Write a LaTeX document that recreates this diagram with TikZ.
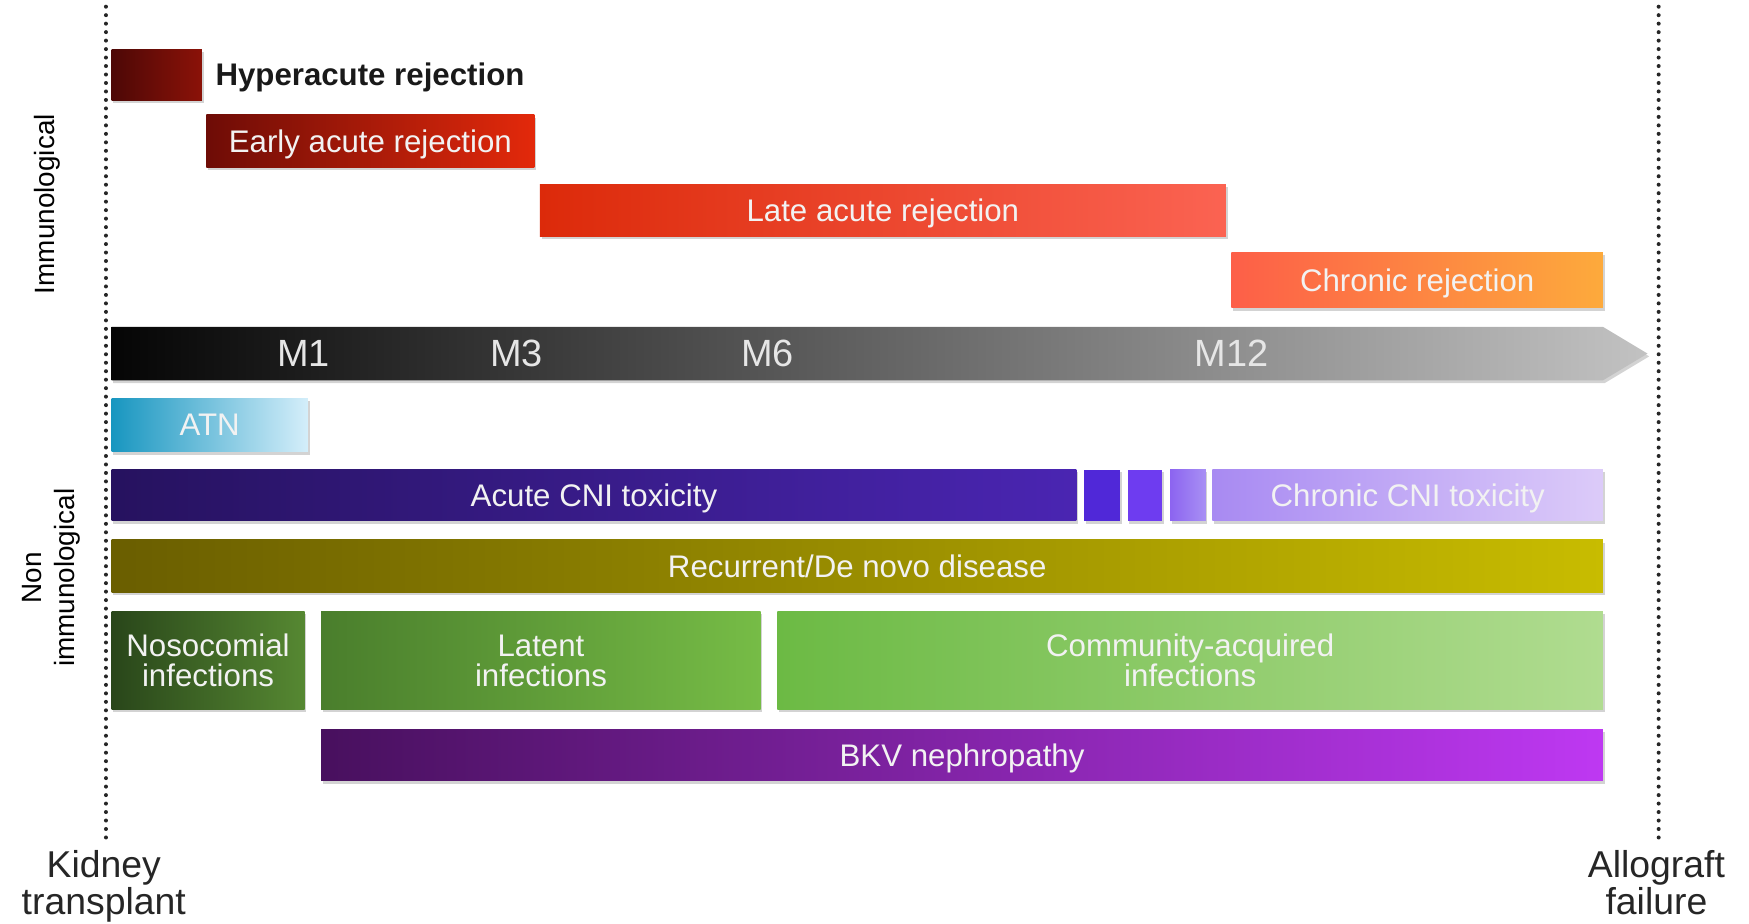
\documentclass[tikz,border=0pt]{standalone}
\usepackage{fontspec}
\setmainfont{Liberation Sans}
\usetikzlibrary{shadows}
\definecolor{hypL}{HTML}{4D0806}\definecolor{hypR}{HTML}{8B1208}
\definecolor{earL}{HTML}{6E0C06}\definecolor{earR}{HTML}{E3290B}
\definecolor{latL}{HTML}{DC2A0A}\definecolor{latR}{HTML}{FB6352}
\definecolor{chrL}{HTML}{FD5F48}\definecolor{chrR}{HTML}{FDAA3C}
\definecolor{arrL}{HTML}{050505}\definecolor{arrR}{HTML}{C2C2C2}
\definecolor{atnL}{HTML}{1896C0}\definecolor{atnR}{HTML}{D4EEFA}
\definecolor{cniL}{HTML}{26125F}\definecolor{cniR}{HTML}{4A25B2}
\definecolor{smA}{HTML}{5028D8}\definecolor{smB}{HTML}{6E3CF0}
\definecolor{smCL}{HTML}{8C64F0}\definecolor{smCR}{HTML}{A890F4}
\definecolor{ccnL}{HTML}{A88AF2}\definecolor{ccnR}{HTML}{DCCBF9}
\definecolor{recL}{HTML}{6A5E00}\definecolor{recR}{HTML}{C8BC00}
\definecolor{nosL}{HTML}{29461A}\definecolor{nosR}{HTML}{568832}
\definecolor{ltnL}{HTML}{4A7E2C}\definecolor{ltnR}{HTML}{76BC46}
\definecolor{comL}{HTML}{6CBA44}\definecolor{comR}{HTML}{B0DC90}
\definecolor{bkvL}{HTML}{48105E}\definecolor{bkvR}{HTML}{BE38F2}
\definecolor{txtW}{HTML}{F2F2F2}
\definecolor{mlab}{HTML}{E6E6E6}
\newcommand\myendfont{\fontsize{33.5}{33}\selectfont\lineskiplimit=-50pt\relax\lineskip=0pt\relax}
\tikzset{
  bx/.style={inner sep=0pt, outer sep=0pt, text=txtW, align=center, text depth=0pt,
    font=\fontsize{28}{27}\selectfont,
    drop shadow={opacity=0.35, shadow xshift=1.5pt, shadow yshift=-2.5pt}},
  side/.style={font=\fontsize{25}{30}\selectfont, text=black, align=center, inner sep=0pt},
  endlab/.style={font=\myendfont, text=black!85, align=center, inner sep=0pt},
  mlabel/.style={font=\fontsize{34}{34}\selectfont, text=mlab, inner sep=0pt},
  dotline/.style={line width=3.6pt, line cap=round, dash pattern=on 0pt off 7.6pt, black!85}
}
\begin{document}
\begin{tikzpicture}[x=1pt,y=-1pt]
\useasboundingbox (0,0) rectangle (1568,828);
% dotted lines
\coordinate (lt) at (95,6); \coordinate (lb) at (95,757);
\coordinate (rt) at (1487,6); \coordinate (rb) at (1487,757);
\draw[dotline] (lt) -- (lb);
\draw[dotline] (rt) -- (rb);
% side labels
\node[side, rotate=90] (imm) at (42,183) {Immunological};
\node[side, rotate=90] (nonimm) at (46,518) {Non\\immunological};
\node[endlab, anchor=base] (kt) at (93,820) {Kidney\\transplant};
\node[endlab, anchor=base] (af) at (1485,820) {Allograft\\failure};
% immunological bars
\node[bx, left color=hypL, right color=hypR, minimum width=81pt, minimum height=46pt] (hyp) at (140.5,67) {};
\node[font=\bfseries\fontsize{28}{28}\selectfont, anchor=base west, inner sep=0pt, text=black!90] (hyplab) at (193,77) {Hyperacute rejection};
\node[bx, left color=earL, right color=earR, minimum width=294pt, minimum height=47pt] (ear) at (332,126.5) {Early acute rejection};
\node[bx, left color=latL, right color=latR, minimum width=615pt, minimum height=47pt] (lat) at (791.5,188.5) {Late acute rejection};
\node[bx, left color=chrL, right color=chrR, minimum width=333pt, minimum height=50pt] (chr) at (1270.5,251) {Chronic rejection};
% time arrow
\shade[left color=arrL, right color=arrR, drop shadow={opacity=0.35, shadow xshift=1.5pt, shadow yshift=-2.5pt}]
  (100,293) -- (1437,293) -- (1477,317) -- (1437,341) -- (100,341) -- cycle;
\node[mlabel] (m1) at (272,317) {M1};
\node[mlabel] (m3) at (463,317) {M3};
\node[mlabel] (m6) at (688,317) {M6};
\node[mlabel] (m12) at (1104,317) {M12};
% non immunological bars
\node[bx, left color=atnL, right color=atnR, minimum width=176pt, minimum height=48pt] (atn) at (188,381) {ATN};
\node[bx, left color=cniL, right color=cniR, minimum width=865pt, minimum height=46pt] (cni) at (532.5,444) {Acute CNI toxicity};
\node[bx, fill=smA, minimum width=32pt, minimum height=46pt] (s1) at (988,444) {};
\node[bx, fill=smB, minimum width=31pt, minimum height=46pt] (s2) at (1026.5,444) {};
\node[bx, left color=smCL, right color=smCR, minimum width=32pt, minimum height=46pt] (s3) at (1065,444) {};
\node[bx, left color=ccnL, right color=ccnR, minimum width=350pt, minimum height=46pt] (ccn) at (1262,444) {Chronic CNI toxicity};
\node[bx, left color=recL, right color=recR, minimum width=1337pt, minimum height=47pt] (rec) at (768.5,507.5) {Recurrent/De novo disease};
\node[bx, left color=nosL, right color=nosR, minimum width=173pt, minimum height=88pt] (nos) at (186.5,592) {Nosocomial\\infections};
\node[bx, left color=ltnL, right color=ltnR, minimum width=394pt, minimum height=88pt] (ltn) at (485,592) {Latent\\infections};
\node[bx, left color=comL, right color=comR, minimum width=740pt, minimum height=88pt] (com) at (1067,592) {Community-acquired\\infections};
\node[bx, left color=bkvL, right color=bkvR, minimum width=1149pt, minimum height=46pt] (bkv) at (862.5,677) {BKV nephropathy};
\end{tikzpicture}
\end{document}
